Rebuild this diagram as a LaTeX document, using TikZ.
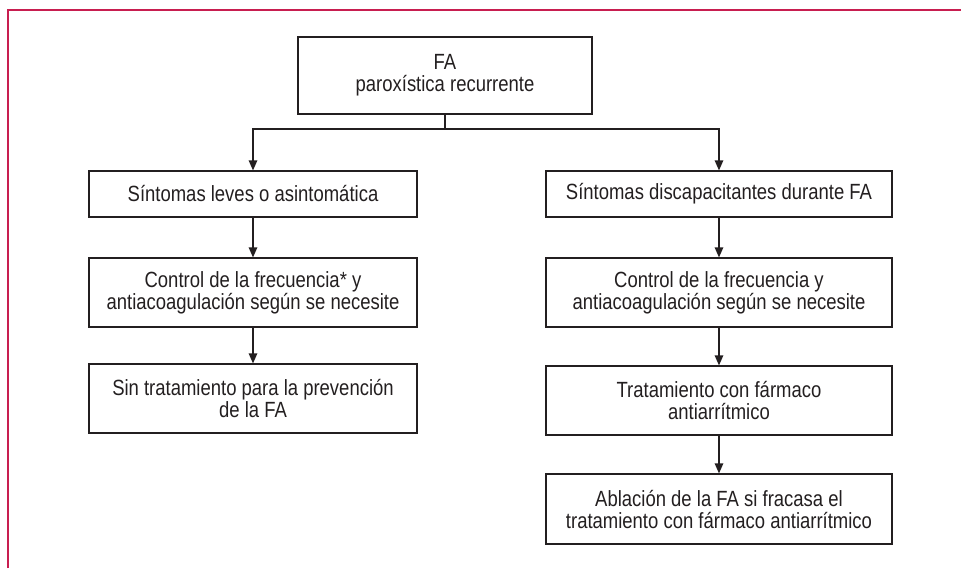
\documentclass[tikz,border=0pt]{standalone}
\usepackage{fontspec}
\setmainfont{Liberation Sans}[FakeStretch=0.84]
\usepackage{tikz}
\usetikzlibrary{arrows.meta,
                positioning}
\definecolor{marco}{RGB}{200,30,80}
\definecolor{tinta}{RGB}{35,31,32}

\begin{document}
\begin{tikzpicture}[x=1pt,y=-1pt,
    caja/.style={draw=tinta,line width=1.2pt,text=tinta,align=center,inner sep=0pt,
      font=\fontsize{22}{22}\selectfont},
    izq/.style={caja,minimum width=328pt},
    der/.style={caja,minimum width=346pt},
    flecha/.style={draw=tinta,line width=1.2pt,-{Triangle[length=10pt,width=8.5pt]}},
    linea/.style={draw=tinta,line width=1.2pt}]
  \useasboundingbox (0,0) rectangle (961,568);
  \draw[marco,line width=1.6pt] (8,568) -- (8,10) -- (961,10);

  \node[caja,minimum width=294pt,minimum height=77pt] (fa) at (445,75.5) {FA\\paroxística recurrente};
  \coordinate (rama) at (445,129);

  \node[izq,minimum height=46pt] (l1) at (253,194) {Síntomas leves o asintomática};
  \node[izq,minimum height=69pt] (l2) at (253,292.5) {Control de la frecuencia* y\\antiacoagulación según se necesite};
  \node[izq,minimum height=69pt] (l3) at (253,398.5) {Sin tratamiento para la prevención\\de la FA};

  \node[der,minimum height=46pt] (r1) at (719,194) {Síntomas discapacitantes durante FA};
  \node[der,minimum height=69pt] (r2) at (719,292.5) {Control de la frecuencia y\\antiacoagulación según se necesite};
  \node[der,minimum height=69pt] (r3) at (719,400.5) {Tratamiento con fármaco\\antiarrítmico};
  \node[der,minimum height=70pt] (r4) at (719,509) {Ablación de la FA si fracasa el\\tratamiento con fármaco antiarrítmico};

  \draw[linea] (fa) -- (rama);
  \draw[flecha] (rama) -| (l1);
  \draw[flecha] (rama) -| (r1);
  \foreach \a/\b in {l1/l2,l2/l3,r1/r2,r2/r3,r3/r4}{%
    \draw[flecha] (\a) -- (\b);
  }
\end{tikzpicture}
\end{document}
